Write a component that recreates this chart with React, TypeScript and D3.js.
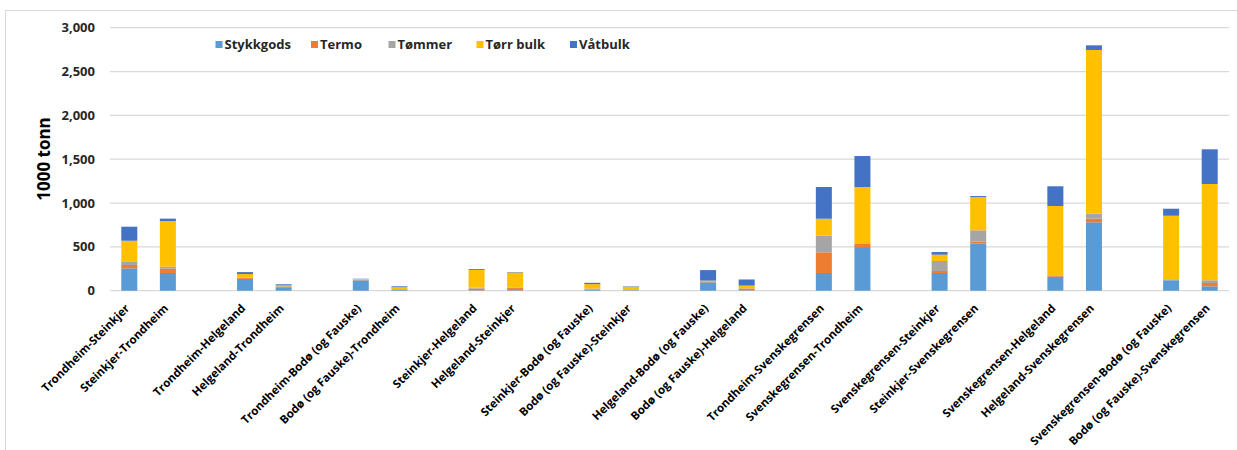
import React from "react";
import * as d3 from "d3";

const categories: string[] = [
  "Trondheim-Steinkjer", "Steinkjer-Trondheim", "",
  "Trondheim-Helgeland", "Helgeland-Trondheim", "",
  "Trondheim-Bodø (og Fauske)", "Bodø (og Fauske)-Trondheim", "",
  "Steinkjer-Helgeland", "Helgeland-Steinkjer", "",
  "Steinkjer-Bodø (og Fauske)", "Bodø (og Fauske)-Steinkjer", "",
  "Helgeland-Bodø (og Fauske)", "Bodø (og Fauske)-Helgeland", "",
  "Trondheim-Svenskegrensen", "Svenskegrensen-Trondheim", "",
  "Svenskegrensen-Steinkjer", "Steinkjer-Svenskegrensen", "",
  "Svenskegrensen-Helgeland", "Helgeland-Svenskegrensen", "",
  "Svenskegrensen-Bodø (og Fauske)", "Bodø (og Fauske)-Svenskegrensen",
];

const stykkgods: number[] = [255, 202, 0, 135, 40, 0, 112, 12, 0, 5, 5, 0, 10, 3, 0, 95, 5, 0, 202, 498, 0, 202, 540, 0, 160, 780, 0, 119, 50];
const termo: number[] = [38, 49, 0, 10, 0, 0, 0, 0, 0, 20, 25, 0, 0, 0, 0, 10, 20, 0, 236, 42, 0, 23, 19, 0, 8, 41, 0, 0, 38];
const tommer: number[] = [42, 23, 0, 5, 10, 0, 12, 8, 0, 10, 8, 0, 15, 5, 0, 5, 3, 0, 189, 0, 0, 114, 130, 0, 0, 57, 0, 11, 31];
const torrBulk: number[] = [235, 521, 0, 40, 10, 0, 10, 20, 0, 202, 170, 0, 50, 37, 0, 5, 30, 0, 194, 643, 0, 72, 380, 0, 798, 1868, 0, 725, 1098];
const vatbulk: number[] = [160, 27, 0, 22, 13, 0, 3, 10, 0, 10, 5, 0, 15, 5, 0, 120, 70, 0, 362, 353, 0, 30, 11, 0, 225, 53, 0, 80, 396];

const seriesNames: string[] = ["Stykkgods", "Termo", "Tømmer", "Tørr bulk", "Våtbulk"];
const seriesColors: string[] = ["#5B9BD5", "#ED7D31", "#A5A5A5", "#FFC000", "#4472C4"];
const yTicks: number[] = [0, 500, 1000, 1500, 2000, 2500, 3000];

const FONT = "'Open Sans', sans-serif";

export default function App() {
  const W = 1237, H = 450;
  const left = 110, right = 1229, top = 27.7, bottom = 290.7;
  const seriesValues = [stykkgods, termo, tommer, torrBulk, vatbulk];

  const rows = categories.map((c, i) => {
    const r: any = { idx: String(i) };
    seriesNames.forEach((s, k) => (r[s] = seriesValues[k][i]));
    return r;
  });
  const stacked = d3.stack().keys(seriesNames)(rows);

  const x = d3.scaleBand<string>()
    .domain(categories.map((_, i) => String(i)))
    .range([left, right])
    .paddingInner(0.585)
    .paddingOuter(0.2925);
  const y = d3.scaleLinear().domain([0, 3000]).range([bottom, top]);
  const fmt = d3.format(",");

  const legendX = [215.5, 311, 388.5, 476.5, 570];

  return (
    <svg width={W} height={H} style={{ position: "absolute", left: 0, top: 0, background: "#fff" }} fontFamily={FONT}>
      <rect x={5.5} y={10.5} width={W} height={H} fill="#fff" stroke="#d9d9d9" strokeWidth={1} />
      {yTicks.map((t) => (
        <g key={t}>
          <line x1={left} x2={right} y1={y(t)} y2={y(t)} stroke="#d9d9d9" strokeWidth={1.2} />
          <text x={95} y={y(t)} dy="0.35em" textAnchor="end" fontSize={13} fontWeight={700} fill="#262626">
            {fmt(t)}
          </text>
        </g>
      ))}
      <text transform={`translate(50,159) rotate(-90)`} textAnchor="middle" fontSize={17} fontWeight={700} fill="#000">
        1000 tonn
      </text>
      {stacked.map((layer, k) => (
        <g key={seriesNames[k]} fill={seriesColors[k]}>
          {layer.map((d: any, i: number) => {
            const h = y(d[0]) - y(d[1]);
            if (h <= 0) return null;
            return (
              <rect key={i} x={x(String(i))} y={y(d[1])} width={x.bandwidth()} height={h} />
            );
          })}
        </g>
      ))}
      {categories.map((c, i) =>
        c ? (
          <text
            key={i}
            transform={`translate(${(x(String(i)) as number) + x.bandwidth() / 2 + 1},${309}) rotate(-45)`}
            textAnchor="end"
            fontSize={11.5}
            fontWeight={700}
            fill="#000"
          >
            {c}
          </text>
        ) : null
      )}
      {seriesNames.map((s, k) => (
        <g key={s}>
          <rect x={legendX[k]} y={41} width={7} height={7} fill={seriesColors[k]} />
          <text x={legendX[k] + 9} y={44.5} dy="0.35em" fontSize={13} fontWeight={700} fill="#262626">
            {s}
          </text>
        </g>
      ))}
    </svg>
  );
}
